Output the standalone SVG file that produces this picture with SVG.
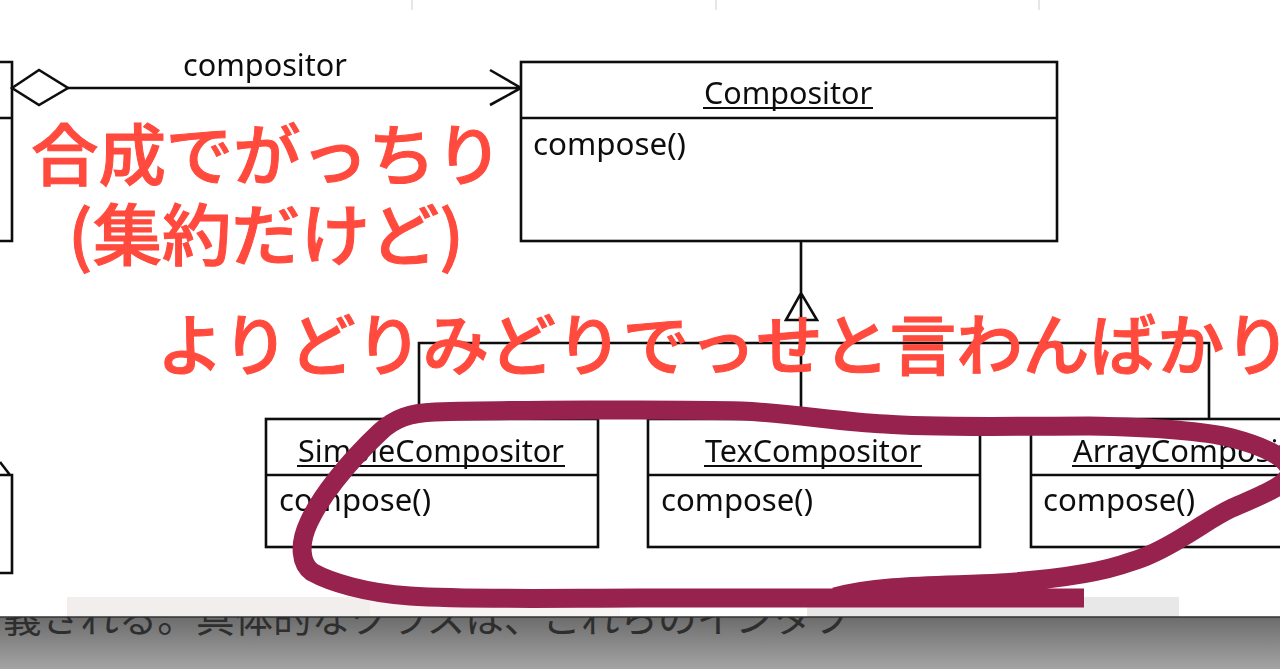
<svg xmlns="http://www.w3.org/2000/svg" width="1280" height="669" viewBox="0 0 1280 669">
<style>
.box{fill:#fff;stroke:#111;stroke-width:2.6}
.ln{fill:none;stroke:#111;stroke-width:2.6}
.uml{font-family:"Noto Sans","Open Sans",sans-serif;font-size:31px;fill:#111}
.red{font-family:"Noto Sans CJK JP",sans-serif;font-size:67px;font-weight:500;fill:#ff4a3d;stroke:#ff4a3d;stroke-width:1}
.mark{fill:none;stroke:#97224e;stroke-width:19;stroke-linecap:butt;stroke-linejoin:round}
.tick{stroke:#e6e6e6;stroke-width:2}
</style>
<defs>
<linearGradient id="bar" x1="0" y1="0" x2="0" y2="1"><stop offset="0" stop-color="#6c6c6c"/><stop offset="1" stop-color="#a4a4a4"/></linearGradient>
<clipPath id="barclip"><rect x="0" y="617" width="1280" height="52"/></clipPath>
<filter id="soft" x="-5%" y="-5%" width="110%" height="110%"><feGaussianBlur stdDeviation="0.7"/></filter>
</defs>
<rect width="1280" height="669" fill="#fff"/>
<g id="page-bits">
<line class="tick" x1="412" y1="0" x2="412" y2="10"/>
<line class="tick" x1="716" y1="0" x2="716" y2="10"/>
<line class="tick" x1="1039" y1="0" x2="1039" y2="10"/>
<rect x="67" y="597" width="303" height="20" fill="#f3eeee"/>
<rect x="370" y="600" width="250" height="17" fill="#f8f4f4"/>
<rect x="807" y="597" width="372" height="20" fill="#e8e8e8"/>
</g>
<g filter="url(#soft)">
<g id="connectors">
<path class="ln" d="M68 88H521M490 70L521 88L490 105"/>
<path class="ln" d="M12 88L39 70L68 88L39 105Z"/>
<path class="ln" d="M801 241V408M786 320L801 293L817 320ZM419 420V343H1209V420"/>
</g>
<g id="node-left-top">
<path class="ln" d="M-4 62H12V241H-4M-4 118H12"/>
</g>
<g id="node-left-bottom">
<path class="ln" d="M-4 475H12V573H-4M0 462L10 475"/>
</g>
<g id="node-compositor">
<rect class="box" x="521" y="62" width="536" height="179"/>
<line class="ln" x1="521" y1="118" x2="1057" y2="118"/>
<text class="uml" x="704" y="104" textLength="168" lengthAdjust="spacingAndGlyphs">Compositor</text>
<line class="ln" x1="703" y1="108" x2="873" y2="108" style="stroke-width:2"/>
<text class="uml" x="533" y="155" textLength="153" lengthAdjust="spacingAndGlyphs">compose()</text>
</g>
<g id="node-simple">
<rect class="box" x="266" y="419" width="332" height="128"/>
<line class="ln" x1="266" y1="475" x2="598" y2="475"/>
<text class="uml" x="298" y="462" textLength="266" lengthAdjust="spacingAndGlyphs">SimpleCompositor</text>
<line class="ln" x1="297" y1="466" x2="565" y2="466" style="stroke-width:2"/>
<text class="uml" x="279" y="511" textLength="152" lengthAdjust="spacingAndGlyphs">compose()</text>
</g>
<g id="node-tex">
<rect class="box" x="648" y="419" width="332" height="128"/>
<line class="ln" x1="648" y1="475" x2="980" y2="475"/>
<text class="uml" x="705" y="462" textLength="216" lengthAdjust="spacingAndGlyphs">TexCompositor</text>
<line class="ln" x1="704" y1="466" x2="922" y2="466" style="stroke-width:2"/>
<text class="uml" x="661" y="511" textLength="152" lengthAdjust="spacingAndGlyphs">compose()</text>
</g>
<g id="node-array">
<rect class="box" x="1031" y="419" width="332" height="128"/>
<line class="ln" x1="1031" y1="475" x2="1363" y2="475"/>
<text class="uml" x="1073" y="462" textLength="248" lengthAdjust="spacingAndGlyphs">ArrayCompositor</text>
<line class="ln" x1="1072" y1="466" x2="1322" y2="466" style="stroke-width:2"/>
<text class="uml" x="1043" y="511" textLength="152" lengthAdjust="spacingAndGlyphs">compose()</text>
</g>
<text class="uml" x="183" y="76" textLength="164" lengthAdjust="spacingAndGlyphs">compositor</text>
</g>
<g id="bottom-bar">
<rect x="0" y="617" width="1280" height="52" fill="url(#bar)"/>
<line x1="0" y1="617" x2="1280" y2="617" stroke="#333" stroke-width="1.5"/>
<text clip-path="url(#barclip)" x="3" y="632" font-family="'Noto Sans CJK JP',sans-serif" font-size="38" fill="#2e2e2e" textLength="848" lengthAdjust="spacingAndGlyphs">義される。具体的なクラスは、これらのインタフ</text>
</g>
<g id="annotations">
<text class="red" x="267" y="180" text-anchor="middle" textLength="472" lengthAdjust="spacingAndGlyphs">合成でがっちり</text>
<text class="red" x="266" y="260" text-anchor="middle" textLength="396" lengthAdjust="spacingAndGlyphs">(集約だけど)</text>
<text class="red" x="157" y="370" textLength="1134" lengthAdjust="spacingAndGlyphs">よりどりみどりでっせと言わんばかり</text>
<path class="mark" d="M1084 598H640C560 598 470 600 410 596C365 593 330 582 312 572C301 564 298 545 309 522C320 498 345 465 380 432C395 418 410 413 435 412C500 410 680 409 742 411C790 413 840 422 885 424C930 428 1020 426 1089 426C1140 427 1200 430 1232 438C1262 446 1285 456 1290 470C1290 485 1262 495 1232 508C1215 516 1200 527 1183 537C1165 548 1148 557 1130 562C1100 573 1060 579 1000 583C950 586 880 584 835 597"/>
</g>
</svg>
